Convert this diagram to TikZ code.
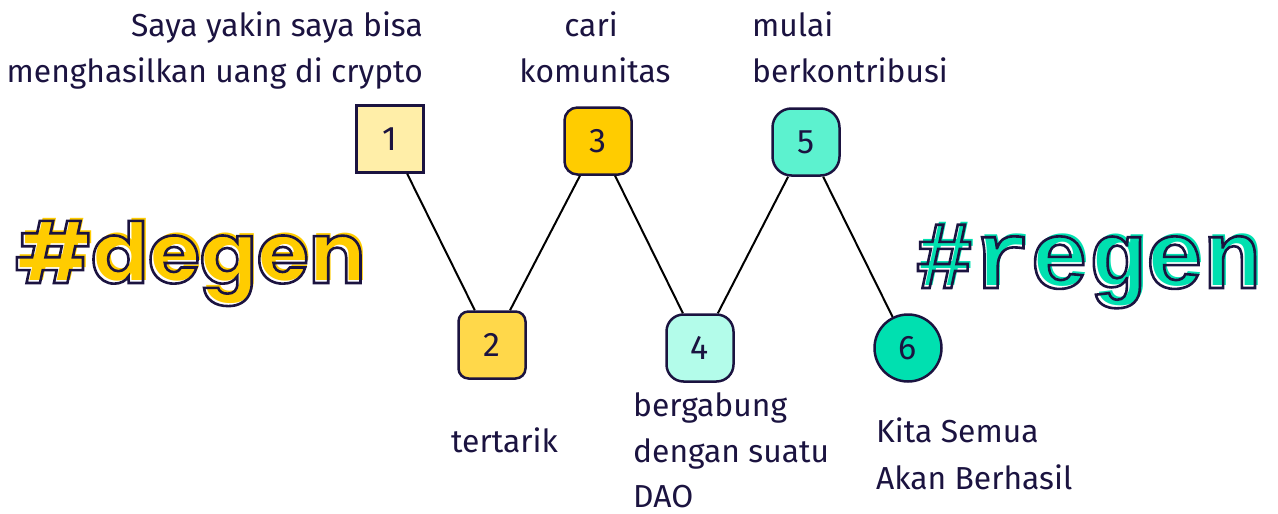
\documentclass[tikz,border=0pt]{standalone}
\usepackage{fontspec}
\setmainfont{Fira Sans}
\newfontfamily\degenfont{Poppins Bold}
\newfontfamily\regenfont{Liberation Mono Bold}
\definecolor{ink}{HTML}{1B1340}
\definecolor{cA}{HTML}{FFEEA8}
\definecolor{cB}{HTML}{FFD84A}
\definecolor{cC}{HTML}{FFCC00}
\definecolor{cD}{HTML}{B3FCEA}
\definecolor{cE}{HTML}{5CF2CF}
\definecolor{cF}{HTML}{00E0B0}
\newcommand{\outlinetxt}[1]{\special{pdf:literal direct 1 Tr 2.6 w}#1\special{pdf:literal direct 0 Tr}}
\tikzset{
  stepbox/.style={draw=ink, line width=2.5pt, minimum size=67pt, inner sep=0pt, text=ink, font=\fontsize{34}{34}\selectfont},
  lbl/.style={text=ink, inner sep=0pt, font=\fontsize{31.8}{31.8}\selectfont},
  link/.style={draw=black, line width=2pt},
  degenstyle/.style={inner sep=0pt, anchor=base west, font=\degenfont\fontsize{84}{84}\selectfont},
  regenstyle/.style={inner sep=0pt, anchor=base west, font=\regenfont\fontsize{96}{96}\selectfont}
}
\begin{document}
\begin{tikzpicture}[x=1pt,y=-1pt]
\useasboundingbox (0,0) rectangle (1278,514);
% step boxes
\node[stepbox, fill=cA] (b1) at (390,139) {1};
\node[stepbox, fill=cB, rounded corners=10pt] (b2) at (492,345) {2};
\node[stepbox, fill=cC, rounded corners=13pt] (b3) at (598,141) {3};
\node[stepbox, fill=cD, rounded corners=17pt] (b4) at (700,348) {4};
\node[stepbox, fill=cE, rounded corners=19pt] (b5) at (806,142) {5};
\node[stepbox, fill=cF, circle] (b6) at (908,348) {6};
% connectors
\draw[link] (b1) -- (b2);
\draw[link] (b2) -- (b3);
\draw[link] (b3) -- (b4);
\draw[link] (b4) -- (b5);
\draw[link] (b5) -- (b6);
% labels
\node[lbl, anchor=base east] (t1a) at (423,36) {Saya yakin saya bisa};
\node[lbl, anchor=base east] (t1b) at (423,82) {menghasilkan uang di crypto};
\node[lbl, anchor=base] (t3a) at (591,36) {cari};
\node[lbl, anchor=base] (t3b) at (595,82) {komunitas};
\node[lbl, anchor=base west] (t5a) at (752,36) {mulai};
\node[lbl, anchor=base west] (t5b) at (752,82) {berkontribusi};
\node[lbl, anchor=base west] (t2) at (451,452) {tertarik};
\node[lbl, anchor=base west] (t4a) at (633,416) {bergabung};
\node[lbl, anchor=base west] (t4b) at (633,462) {dengan suatu};
\node[lbl, anchor=base west] (t4c) at (633,507) {DAO};
\node[lbl, anchor=base west] (t6a) at (876,442) {Kita Semua};
\node[lbl, anchor=base west] (t6b) at (876,489) {Akan Berhasil};
% degen / regen
\node[degenstyle, text=cC] (degenshadow) at (18,280) {\#degen};
\node[degenstyle, text=ink] (degen) at (15,283) {\outlinetxt{\#degen}};
\node[regenstyle, text=cF] (regenshadow) at (918,285) {\#regen};
\node[regenstyle, text=ink] (regen) at (915,288) {\outlinetxt{\#regen}};
\end{tikzpicture}
\end{document}
